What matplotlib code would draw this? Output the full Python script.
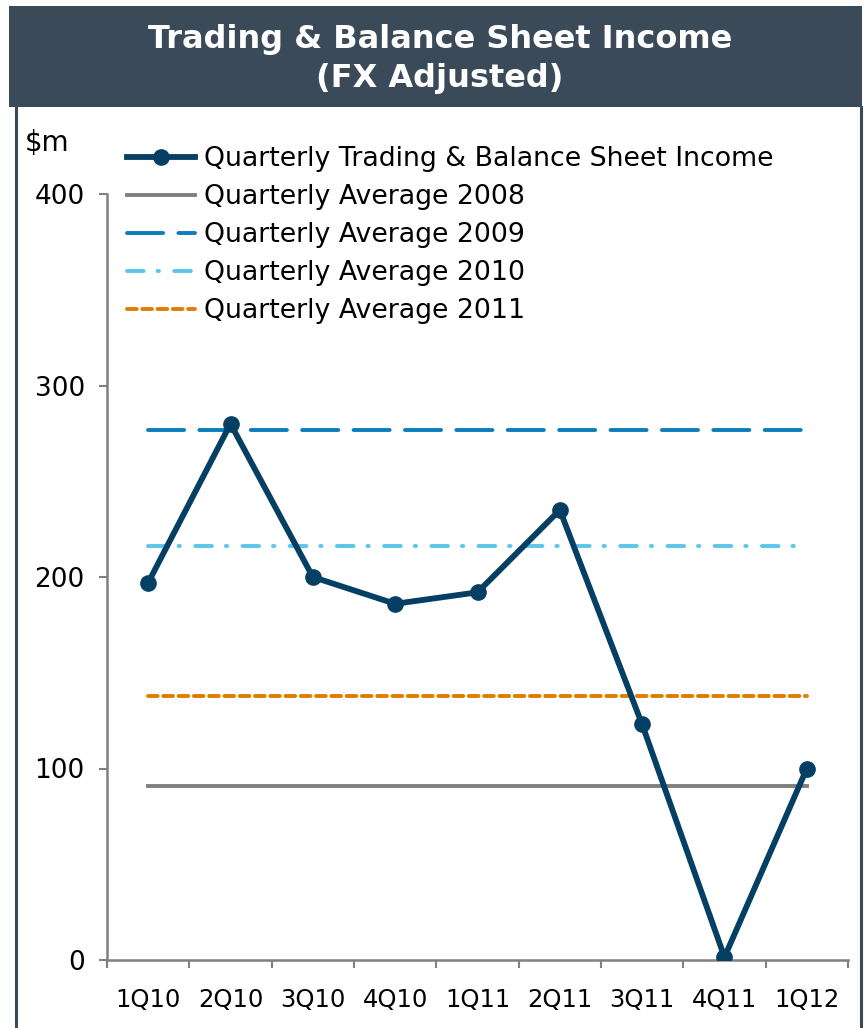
import numpy as np
import matplotlib
matplotlib.use('Agg')
import matplotlib.pyplot as plt
from matplotlib.patches import Rectangle
from matplotlib.lines import Line2D

quarters = ['1Q10', '2Q10', '3Q10', '4Q10', '1Q11', '2Q11', '3Q11', '4Q11', '1Q12']
income = [197, 280, 200, 186, 192, 235, 123, 1.5, 100]
avg_2008 = 91
avg_2009 = 277
avg_2010 = 216
avg_2011 = 138
yticks = [0, 100, 200, 300, 400]

plt.rcParams['font.family'] = 'DejaVu Sans'
plt.rcParams['lines.scale_dashes'] = False

W, H = 866, 1028
fig = plt.figure(figsize=(W / 100, H / 100), dpi=100)

# header band + frame
fig.patches.append(Rectangle((9 / W, 1 - 107 / H), 853 / W, 101 / H, transform=fig.transFigure,
                             facecolor='#3b4a59', edgecolor='none', zorder=0))
fig.add_artist(Line2D([16 / W, 16 / W], [0, 1 - 107 / H], color='#3b4a59', lw=2.2))
fig.add_artist(Line2D([861 / W, 861 / W], [0, 1 - 107 / H], color='#3b4a59', lw=2.2))
fig.text(440 / W, 1 - 59 / H, 'Trading & Balance Sheet Income\n(FX Adjusted)', color='white',
         fontsize=23, fontweight='bold', ha='center', va='center', linespacing=1.3)
fig.text(25 / W, 1 - 143 / H, '$m', fontsize=20, ha='left', va='center')

ax = fig.add_axes([107 / W, 1 - 960 / H, 741 / W, 766 / H])
x = np.arange(len(quarters))
n = len(quarters)

l_inc, = ax.plot(x, income, color='#053f63', lw=4.2, marker='o', markersize=11,
                 solid_joinstyle='round', label='Quarterly Trading & Balance Sheet Income', zorder=5)
l08, = ax.plot(x, [avg_2008] * n, color='#808080', lw=2.8, label='Quarterly Average 2008')
l09, = ax.plot(x, [avg_2009] * n, color='#0b7dbd', lw=2.8, dashes=(26, 11), dash_capstyle='round',
               label='Quarterly Average 2009')
l10, = ax.plot(x, [avg_2010] * n, color='#5cc6ea', lw=2.8, dashes=(12, 10, 1, 11), dash_capstyle='round',
               label='Quarterly Average 2010')
l11, = ax.plot(x, [avg_2011] * n, color='#e17c00', lw=2.8, dashes=(7, 4), dash_capstyle='round',
               label='Quarterly Average 2011')

ax.set_xlim(-0.5, n - 0.5)
ax.set_ylim(0, 400)
ax.set_yticks(yticks)
ax.set_xticks(np.arange(-0.5, n, 1.0))
ax.set_xticklabels([])
ax.set_xticks(x, minor=True)
ax.set_xticklabels(quarters, minor=True)
ax.tick_params(axis='x', which='major', direction='out', length=6, width=1.5, color='#808080')
ax.tick_params(axis='x', which='minor', length=0, pad=20, labelsize=17.5)
ax.tick_params(axis='y', direction='out', length=6, width=1.5, color='#808080', labelsize=19, pad=10)
for s in ['top', 'right']:
    ax.spines[s].set_visible(False)
for s in ['left', 'bottom']:
    ax.spines[s].set_color('#808080')
    ax.spines[s].set_linewidth(1.8)

ax.legend(handles=[l_inc, l08, l09, l10, l11], loc='upper left',
          bbox_to_anchor=(127 / W, 1 - 146 / H), bbox_transform=fig.transFigure,
          frameon=False, fontsize=19.3, handlelength=2.55, handletextpad=0.32,
          labelspacing=0.45, borderpad=0, borderaxespad=0)

fig.savefig('out.png', dpi=100)
